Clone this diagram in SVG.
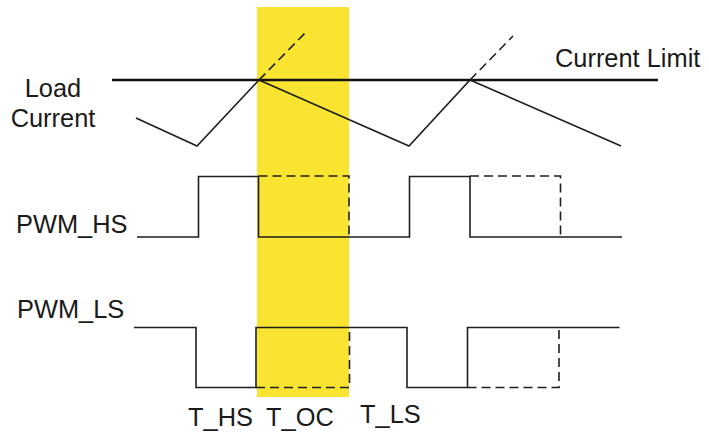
<svg xmlns="http://www.w3.org/2000/svg" width="709" height="436" viewBox="0 0 709 436">
<style>
.w{fill:none;stroke:#1e1e1e;stroke-width:1.6;stroke-linejoin:miter}
.d{fill:none;stroke:#1e1e1e;stroke-width:1.6;stroke-dasharray:9 5}
.lim{fill:none;stroke:#111;stroke-width:2.6}
.t{font-family:"Liberation Sans",Arial,sans-serif;font-size:25.4px;fill:#1a1a1a}
</style>
<rect id="toc-band" x="257" y="7" width="92" height="390" fill="#F8E431"/>
<g id="current">
<line class="lim" x1="112" y1="80" x2="658" y2="80"/>
<polyline class="w" points="136,118 197,146 259,80 409,146 470,80 621,146"/>
<line class="d" x1="259" y1="80" x2="307" y2="31"/>
<line class="d" x1="470" y1="80" x2="513" y2="36"/>
</g>
<g id="pwm-hs">
<polyline class="w" points="137,237 198.5,237 198.5,176.5 258.5,176.5 258.5,237 409.5,237 409.5,176.5 470,176.5 470,237 622,237"/>
<polyline class="d" points="258.5,176 349,176 349,237"/>
<polyline class="d" points="470,176 560.5,176 560.5,237"/>
</g>
<g id="pwm-ls">
<polyline class="w" points="134,327.5 196,327.5 196,387.5 256,387.5 256,327.5 407,327.5 407,387.5 467.5,387.5 467.5,327.5 619.5,327.5"/>
<polyline class="d" points="256,387.5 349.5,387.5 349.5,327.5"/>
<polyline class="d" points="467.5,387.5 559,387.5 559,327.5"/>
</g>
<g id="labels">
<text class="t" x="555" y="67">Current Limit</text>
<text class="t" x="53" y="97" text-anchor="middle">Load</text>
<text class="t" x="53" y="127" text-anchor="middle">Current</text>
<text class="t" x="16" y="233">PWM_HS</text>
<text class="t" x="17" y="318">PWM_LS</text>
<text class="t" x="188" y="426">T_HS</text>
<text class="t" x="266" y="426">T_OC</text>
<text class="t" x="360" y="423">T_LS</text>
</g>
</svg>
